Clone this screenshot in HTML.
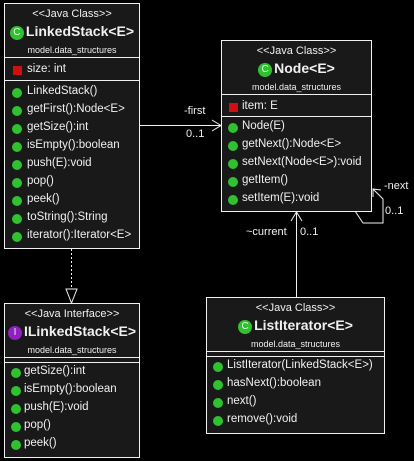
<!DOCTYPE html>
<html><head><meta charset="utf-8"><style>
*{margin:0;padding:0;box-sizing:border-box}
body{width:414px;height:461px;background:#000;position:relative;overflow:hidden;font-family:"Liberation Sans",Arial,sans-serif;color:#f0f0f0}
.box{position:absolute;border:1px solid #f0f0f0;background:#191919}
.sep{position:absolute;left:0;right:0;border-top:1px solid #f0f0f0}
.t{position:absolute;white-space:nowrap}
.st{font-size:11px;left:0;right:0;text-align:center}
.ti{font-size:14px;font-weight:bold;left:0;right:0;text-align:center}
.pk{font-size:9px;left:0;right:0;text-align:center}
.m{font-size:11.5px;left:22px}
.dot{position:absolute;width:10px;height:10px;border-radius:50%;background:#2fc12f}
.sq{position:absolute;width:9px;height:9px;background:#d01010}
.ci{display:inline-block;width:14px;height:14px;border-radius:50%;background:#2fc12f;color:#dfffdf;font-size:10px;font-weight:normal;line-height:14px;text-align:center;vertical-align:1px;margin-right:2px}
.ii{background:#9020c0}
.lbl{position:absolute;font-size:11px;white-space:nowrap;color:#f0f0f0}
</style></head><body>

<svg width="414" height="461" style="position:absolute;left:0;top:0">
<g stroke="#f0f0f0" fill="none" stroke-width="1">
<line x1="139" y1="125.5" x2="221" y2="125.5"/>
<polyline points="212,120 221,125.5 212,131"/>
<line x1="71.5" y1="249" x2="71.5" y2="289" stroke-dasharray="2,2"/>
<polygon points="66,289 77,289 71.5,303" fill="#000"/>
<line x1="296.5" y1="297" x2="296.5" y2="212"/>
<polyline points="291,221 296.5,212 302,221"/>
<polyline points="355,211 363,223 383,223 383,199 373,189"/>
<polyline points="373,197 373,189 381,190"/>
</g></svg>

<div class="lbl" style="left:184px;top:105px">-first</div>
<div class="lbl" style="left:186px;top:128px">0..1</div>
<div class="lbl" style="left:246px;top:226px">~current</div>
<div class="lbl" style="left:300px;top:226px">0..1</div>
<div class="lbl" style="left:384px;top:180px">-next</div>
<div class="lbl" style="left:385px;top:205px">0..1</div>

<!-- LinkedStack -->
<div class="box" style="left:4px;top:3px;width:136px;height:246px">
<div class="t st" style="top:4px">&lt;&lt;Java Class&gt;&gt;</div>
<div class="t ti" style="top:19px"><span class="ci">C</span>LinkedStack&lt;E&gt;</div>
<div class="t pk" style="top:41px">model.data_structures</div>
<div class="sep" style="top:53px"></div>
<div class="sq" style="left:8px;top:62px"></div><div class="t m" style="top:59px">size: int</div>
<div class="sep" style="top:76px"></div>
<div class="dot" style="left:7px;top:84px"></div><div class="t m" style="top:81px">LinkedStack()</div>
<div class="dot" style="left:7px;top:102px"></div><div class="t m" style="top:99px">getFirst():Node&lt;E&gt;</div>
<div class="dot" style="left:7px;top:120px"></div><div class="t m" style="top:117px">getSize():int</div>
<div class="dot" style="left:7px;top:138px"></div><div class="t m" style="top:135px">isEmpty():boolean</div>
<div class="dot" style="left:7px;top:156px"></div><div class="t m" style="top:153px">push(E):void</div>
<div class="dot" style="left:7px;top:174px"></div><div class="t m" style="top:171px">pop()</div>
<div class="dot" style="left:7px;top:192px"></div><div class="t m" style="top:189px">peek()</div>
<div class="dot" style="left:7px;top:210px"></div><div class="t m" style="top:207px">toString():String</div>
<div class="dot" style="left:7px;top:228px"></div><div class="t m" style="top:225px">iterator():Iterator&lt;E&gt;</div>
</div>

<!-- Node -->
<div class="box" style="left:221px;top:40px;width:151px;height:172px">
<div class="t st" style="top:4px">&lt;&lt;Java Class&gt;&gt;</div>
<div class="t ti" style="top:19px"><span class="ci">C</span>Node&lt;E&gt;</div>
<div class="t pk" style="top:41px">model.data_structures</div>
<div class="sep" style="top:53px"></div>
<div class="sq" style="left:7px;top:62px"></div><div class="t m" style="left:20px;top:59px">item: E</div>
<div class="sep" style="top:75px"></div>
<div class="dot" style="left:6px;top:82px"></div><div class="t m" style="left:20px;top:79px">Node(E)</div>
<div class="dot" style="left:6px;top:100px"></div><div class="t m" style="left:20px;top:97px">getNext():Node&lt;E&gt;</div>
<div class="dot" style="left:6px;top:118px"></div><div class="t m" style="left:20px;top:115px">setNext(Node&lt;E&gt;):void</div>
<div class="dot" style="left:6px;top:136px"></div><div class="t m" style="left:20px;top:133px">getItem()</div>
<div class="dot" style="left:6px;top:154px"></div><div class="t m" style="left:20px;top:151px">setItem(E):void</div>
</div>

<!-- ILinkedStack -->
<div class="box" style="left:4px;top:303px;width:136px;height:155px">
<div class="t st" style="top:4px">&lt;&lt;Java Interface&gt;&gt;</div>
<div class="t ti" style="top:19px"><span class="ci ii">I</span>ILinkedStack&lt;E&gt;</div>
<div class="t pk" style="top:41px">model.data_structures</div>
<div class="sep" style="top:53px"></div>
<div class="sep" style="top:58px"></div>
<div class="dot" style="left:6px;top:64px"></div><div class="t m" style="left:19px;top:61px">getSize():int</div>
<div class="dot" style="left:6px;top:82px"></div><div class="t m" style="left:19px;top:79px">isEmpty():boolean</div>
<div class="dot" style="left:6px;top:100px"></div><div class="t m" style="left:19px;top:97px">push(E):void</div>
<div class="dot" style="left:6px;top:118px"></div><div class="t m" style="left:19px;top:115px">pop()</div>
<div class="dot" style="left:6px;top:136px"></div><div class="t m" style="left:19px;top:133px">peek()</div>
</div>

<!-- ListIterator -->
<div class="box" style="left:206px;top:297px;width:179px;height:137px">
<div class="t st" style="top:4px">&lt;&lt;Java Class&gt;&gt;</div>
<div class="t ti" style="top:19px"><span class="ci">C</span>ListIterator&lt;E&gt;</div>
<div class="t pk" style="top:41px">model.data_structures</div>
<div class="sep" style="top:53px"></div>
<div class="sep" style="top:58px"></div>
<div class="dot" style="left:6px;top:64px"></div><div class="t m" style="left:20px;top:61px">ListIterator(LinkedStack&lt;E&gt;)</div>
<div class="dot" style="left:6px;top:82px"></div><div class="t m" style="left:20px;top:79px">hasNext():boolean</div>
<div class="dot" style="left:6px;top:100px"></div><div class="t m" style="left:20px;top:97px">next()</div>
<div class="dot" style="left:6px;top:118px"></div><div class="t m" style="left:20px;top:115px">remove():void</div>
</div>
</body></html>
